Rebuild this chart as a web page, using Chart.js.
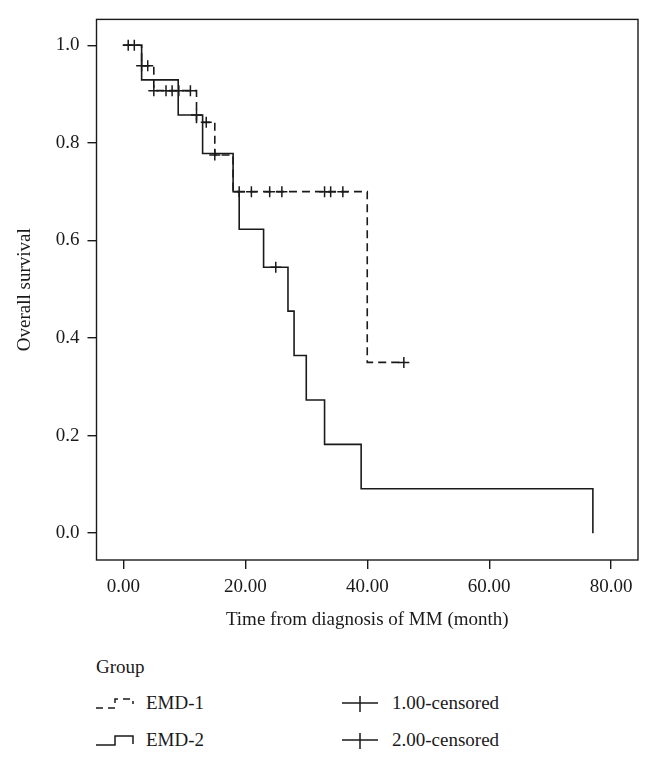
<!DOCTYPE html>
<html>
<head>
<meta charset="utf-8">
<script src="https://cdn.jsdelivr.net/npm/chart.js@4.4.1/dist/chart.umd.min.js"></script>
<style>
body { margin:0; background:#fff; font-family:"Liberation Serif", serif; color:#1a1a1a; }
#wrap { position:relative; width:652px; height:762px; }
#chart-box { position:absolute; left:0; top:0; width:652px; height:640px; }
.lg { position:absolute; font-size:19px; line-height:20px; white-space:nowrap; }
.sym { position:absolute; }
</style>
</head>
<body>
<div id="wrap">
	<div id="chart-box"><canvas id="km-chart"></canvas></div>
	<div class="lg" style="left:96px;top:657px;">Group</div>
	<svg class="sym" style="left:95px;top:695px;" width="40" height="16">
		<path d="M1,13 H20 V4 H38 V9" fill="none" stroke="#1a1a1a" stroke-width="1.5" stroke-dasharray="7,5"/>
	</svg>
	<div class="lg" style="left:146px;top:693px;">EMD-1</div>
	<svg class="sym" style="left:95px;top:732px;" width="40" height="16">
		<path d="M1,13 H20 V4 H38 V12" fill="none" stroke="#1a1a1a" stroke-width="1.5"/>
	</svg>
	<div class="lg" style="left:146px;top:730px;">EMD-2</div>
	<svg class="sym" style="left:341px;top:695px;" width="38" height="18">
		<path d="M1,8 H37 M19,1 V17" fill="none" stroke="#1a1a1a" stroke-width="1.5"/>
	</svg>
	<div class="lg" style="left:392px;top:693px;">1.00-censored</div>
	<svg class="sym" style="left:341px;top:732px;" width="38" height="18">
		<path d="M1,8 H37 M19,1 V17" fill="none" stroke="#1a1a1a" stroke-width="1.5"/>
	</svg>
	<div class="lg" style="left:392px;top:730px;">2.00-censored</div>
</div>
<script>
// survival steps (time in months, survival after the event)
var emd1Times = [0, 3, 5, 12, 15, 18, 40, 46];
var emd1Surv = [1.0, 0.958, 0.907, 0.842, 0.775, 0.70, 0.35, 0.35];
var emd2Times = [0, 3, 9, 13, 18, 19, 23, 27, 28, 30, 33, 39, 77];
var emd2Surv = [1.0, 0.929, 0.857, 0.778, 0.70, 0.623, 0.545, 0.455, 0.364, 0.273, 0.182, 0.091, 0.0];

// censored observations
var emd1CensTimes = [0.8, 1.8, 3, 4, 5, 7, 8, 9.1, 11, 13.6, 15, 19, 21, 24, 26, 33, 34, 36, 46];
var emd1CensSurv = [1.0, 1.0, 0.958, 0.958, 0.907, 0.907, 0.907, 0.907, 0.907, 0.842, 0.775, 0.70, 0.70, 0.70, 0.70, 0.70, 0.70, 0.70, 0.35];
var emd2CensTimes = [12, 25];
var emd2CensSurv = [0.857, 0.545];

var xTicks = [0, 20, 40, 60, 80];
var yTicks = [0.0, 0.2, 0.4, 0.6, 0.8, 1.0];

var ink = "#1a1a1a";
var fontSpec = {family: "Liberation Serif", size: 19};

function toPoints(xs, ys) {
	var pts = [];
	for (var i = 0; i < xs.length; i++) {
		pts.push({x: xs[i], y: ys[i]});
	}
	return pts;
}

var frameBox = {
	id: "frameBox",
	afterDraw: function(chart) {
		var a = chart.chartArea;
		var ctx = chart.ctx;
		ctx.save();
		ctx.strokeStyle = ink;
		ctx.lineWidth = 1.4;
		ctx.strokeRect(a.left, a.top, a.right - a.left, a.bottom - a.top);
		ctx.restore();
	}
};

var canvas = document.getElementById("km-chart");
var kmChart = new Chart(canvas, {
	type: "scatter",
	data: {
		datasets: [
		{
			label: "EMD-1",
			data: toPoints(emd1Times, emd1Surv),
			showLine: true,
			stepped: "before",
			borderColor: ink,
			borderWidth: 1.6,
			borderDash: [8, 5],
			pointRadius: 0
		},
		{
			label: "EMD-2",
			data: toPoints(emd2Times, emd2Surv),
			showLine: true,
			stepped: "before",
			borderColor: ink,
			borderWidth: 1.6,
			pointRadius: 0
		},
		{
			label: "1.00-censored",
			data: toPoints(emd1CensTimes, emd1CensSurv),
			showLine: false,
			pointStyle: "cross",
			pointRadius: 5.5,
			borderColor: ink,
			borderWidth: 1.5
		},
		{
			label: "2.00-censored",
			data: toPoints(emd2CensTimes, emd2CensSurv),
			showLine: false,
			pointStyle: "cross",
			pointRadius: 5.5,
			borderColor: ink,
			borderWidth: 1.5
		}]
	},
	options: {
		responsive: true,
		maintainAspectRatio: false,
		animation: false,
		layout: {padding: {top: 15, right: 14, bottom: 0, left: 0}},
		plugins: {legend: {display: false}, tooltip: {enabled: false}},
		scales: {
			x: {
				type: "linear",
				min: -4.4,
				max: 84.4,
				afterBuildTicks: function(scale) {
					scale.ticks = xTicks.map(function(v) { return {value: v}; });
				},
				afterFit: function(scale) { scale.height = 80; },
				ticks: {
					color: ink,
					font: fontSpec,
					padding: 7,
					maxRotation: 0,
					callback: function(v) { return Number(v).toFixed(2); }
				},
				grid: {display: true, drawOnChartArea: false, drawTicks: true, tickLength: 9, color: ink, lineWidth: 1.4},
				border: {display: false},
				title: {display: true, text: "Time from diagnosis of MM (month)", color: ink, font: fontSpec, padding: {top: 4, bottom: 9}}
			},
			y: {
				type: "linear",
				min: -0.055,
				max: 1.053,
				afterBuildTicks: function(scale) {
					scale.ticks = yTicks.map(function(v) { return {value: v}; });
				},
				afterFit: function(scale) { scale.width = 96.5; },
				ticks: {
					color: ink,
					font: fontSpec,
					padding: 8,
					callback: function(v) { return Number(v).toFixed(1); }
				},
				grid: {display: true, drawOnChartArea: false, drawTicks: true, tickLength: 9, color: ink, lineWidth: 1.4},
				border: {display: false},
				title: {display: true, text: "Overall survival", color: ink, font: fontSpec, padding: {top: 14, bottom: 4}}
			}
		}
	},
	plugins: [frameBox]
});
</script>
</body>
</html>
